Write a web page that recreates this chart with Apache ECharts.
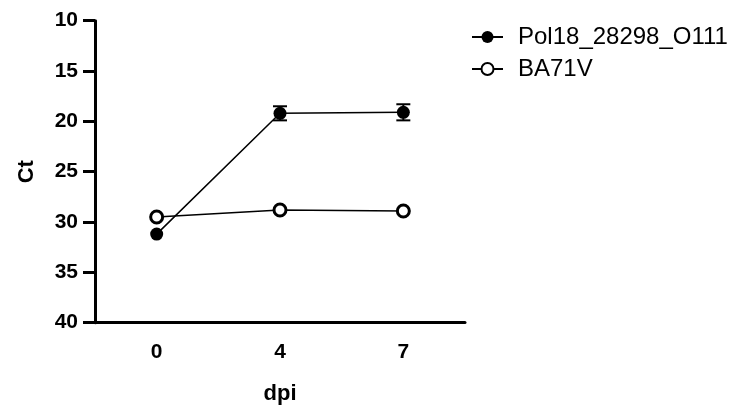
<!DOCTYPE html>
<html>
<head>
<meta charset="utf-8">
<script src="https://cdn.jsdelivr.net/npm/echarts@6/dist/echarts.min.js"></script>
<style>html,body{margin:0;padding:0;background:#fff;}#c{width:738px;height:405px;}</style>
</head>
<body>
<div id="c"></div>
<script>
const categories = ['0', '4', '7'];
const polMean = [31.2, 19.2, 19.1];
const polSd = [0, 0.7, 0.8];
const baMean = [29.5, 28.8, 28.9];
const baSd = [0, 0, 0];
const yTicks = [10, 15, 20, 25, 30, 35, 40];

const FONT = 'Liberation Sans, Arial, Helvetica, sans-serif';
const chart = echarts.init(document.getElementById('c'), null, {renderer: 'canvas'});

function errData(mean, sd) {
  return mean.map((m, i) => [i, m - sd[i], m + sd[i]]);
}
function errRender(params, api) {
  const x = api.value(0);
  const lo = api.coord([x, api.value(1)]);
  const hi = api.coord([x, api.value(2)]);
  if (Math.abs(hi[1] - lo[1]) < 0.5) return null;
  const half = 7;
  const st = {stroke: '#000', lineWidth: 2};
  return {
    type: 'group',
    children: [
      {type: 'line', shape: {x1: lo[0], y1: lo[1], x2: hi[0], y2: hi[1]}, style: st},
      {type: 'line', shape: {x1: lo[0] - half, y1: lo[1], x2: lo[0] + half, y2: lo[1]}, style: st},
      {type: 'line', shape: {x1: hi[0] - half, y1: hi[1], x2: hi[0] + half, y2: hi[1]}, style: st}
    ]
  };
}

chart.setOption({
  animation: false,
  backgroundColor: '#fff',
  textStyle: {fontFamily: FONT},
  grid: {left: 95, top: 20.7, width: 370, height: 302, containLabel: false, outerBoundsMode: 'none'},
  legend: {
    orient: 'vertical',
    left: 466,
    top: 20,
    itemWidth: 31,
    itemHeight: 15,
    itemGap: 8,
    lineStyle: {width: 2},
    textStyle: {fontSize: 24, color: '#000', fontFamily: FONT, padding: [0, 0, 0, 10]},
    data: ['Pol18_28298_O111', 'BA71V']
  },
  xAxis: {
    type: 'category',
    data: categories,
    boundaryGap: true,
    name: 'dpi',
    nameLocation: 'middle',
    nameGap: 60,
    nameTextStyle: {fontSize: 22, fontWeight: 'bold', color: '#000', fontFamily: FONT},
    axisLine: {lineStyle: {color: '#000', width: 3}},
    axisTick: {alignWithLabel: true, length: 13, lineStyle: {color: '#000', width: 3}},
    axisLabel: {fontSize: 21, fontWeight: 'bold', color: '#000', margin: 19, fontFamily: FONT},
    splitLine: {show: false}
  },
  yAxis: {
    type: 'value',
    inverse: true,
    min: yTicks[0],
    max: yTicks[yTicks.length - 1],
    interval: yTicks[1] - yTicks[0],
    name: 'Ct',
    nameLocation: 'middle',
    nameGap: 57,
    nameTextStyle: {fontSize: 22, fontWeight: 'bold', color: '#000', fontFamily: FONT},
    axisLine: {show: true, lineStyle: {color: '#000', width: 3}},
    axisTick: {show: true, length: 12, lineStyle: {color: '#000', width: 3}},
    axisLabel: {fontSize: 21, fontWeight: 'bold', color: '#000', margin: 17, fontFamily: FONT},
    splitLine: {show: false}
  },
  series: [
    {
      type: 'custom',
      name: 'err1',
      renderItem: errRender,
      data: errData(polMean, polSd),
      z: 1,
      silent: true
    },
    {
      type: 'custom',
      name: 'err2',
      renderItem: errRender,
      data: errData(baMean, baSd),
      z: 1,
      silent: true
    },
    {
      type: 'line',
      name: 'BA71V',
      data: baMean,
      symbol: 'circle',
      symbolSize: 12,
      showAllSymbol: true,
      lineStyle: {color: '#000', width: 1.5},
      itemStyle: {color: '#fff', borderColor: '#000', borderWidth: 3},
      z: 3
    },
    {
      type: 'line',
      name: 'Pol18_28298_O111',
      data: polMean,
      symbol: 'circle',
      symbolSize: 13,
      showAllSymbol: true,
      lineStyle: {color: '#000', width: 1.5},
      itemStyle: {color: '#000', borderColor: '#000', borderWidth: 0},
      z: 4
    }
  ]
});
</script>
</body>
</html>
